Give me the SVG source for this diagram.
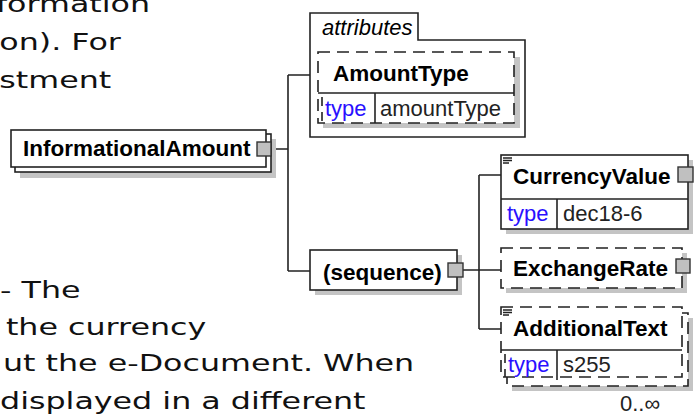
<svg xmlns="http://www.w3.org/2000/svg" width="695" height="416" viewBox="0 0 695 416">
<style>
.bg{font-family:"DejaVu Sans",Verdana,sans-serif;font-size:23.5px;fill:#111}
.t{font-family:"Liberation Sans",Arial,sans-serif;font-size:22.5px;font-weight:bold;fill:#000}
.r{font-family:"Liberation Sans",Arial,sans-serif;font-size:22px;fill:#222}
.ty{font-family:"Liberation Sans",Arial,sans-serif;font-size:22px;fill:#2a10ff}
.it{font-family:"Liberation Sans",Arial,sans-serif;font-size:22px;font-style:italic;fill:#000}
.box{fill:#fff;stroke:#222;stroke-width:1.6}
.dbox{fill:#fff;stroke:#222;stroke-width:1.6;stroke-dasharray:12 7}
.sh{fill:#c4c4c4}
.ln{fill:none;stroke:#222;stroke-width:1.6}
.dl{fill:none;stroke:#222;stroke-width:1.6;stroke-dasharray:9 6}
.sq{fill:#c0c0c0;stroke:#333;stroke-width:1.4}
</style>
<rect width="695" height="416" fill="#fff"/>
<g id="background-text" transform="scale(1.35,1)">
<text class="bg" x="-3" y="12">formation</text>
<text class="bg" x="-0.5" y="50">on). For</text>
<text class="bg" x="-0.5" y="88">stment</text>
<text class="bg" x="0" y="298">- The</text>
<text class="bg" x="4.4" y="335">the currency</text>
<text class="bg" x="2.2" y="371">ut the e-Document. When</text>
<text class="bg" x="0" y="409">displayed in a different</text>
</g>
<g id="connectors">
<path class="ln" d="M272,149 H288 M288,75 V271 M288,75 H310 M288,271 H310"/>
<path class="ln" d="M463,270 H479 M479,175 V329 M479,175 H501 M479,270 H501 M479,329 H501"/>
</g>
<g id="InformationalAmount">
<rect class="sh" x="20" y="139" width="256" height="39"/>
<rect class="box" x="15" y="134" width="256" height="38"/>
<rect class="box" x="11" y="130" width="255" height="37"/>
<text class="t" x="23" y="156">InformationalAmount</text>
<rect class="sq" x="257" y="142" width="14" height="14"/>
</g>
<g id="attributes">
<path class="box" d="M310,137 V13 H418 V40 H525 V137 Z"/>
<text class="it" x="322" y="35">attributes</text>
</g>
<g id="AmountType">
<rect class="sh" x="323" y="57" width="197" height="71"/>
<rect class="dbox" x="318" y="52" width="196" height="71"/>
<line class="ln" x1="318" y1="93" x2="514" y2="93"/>
<line class="dl" x1="322" y1="97" x2="322" y2="123"/>
<line class="ln" x1="375" y1="93" x2="375" y2="123"/>
<text class="t" x="333" y="81">AmountType</text>
<text class="ty" x="325" y="116">type</text>
<text class="r" x="380" y="116">amountType</text>
</g>
<g id="sequence">
<rect class="sh" x="315" y="255" width="147" height="40"/>
<rect class="box" x="310" y="250" width="147" height="40"/>
<text class="t" x="323" y="280">(sequence)</text>
<rect class="sq" x="448" y="263" width="15" height="14"/>
</g>
<g id="CurrencyValue">
<rect class="sh" x="506" y="160" width="187" height="74"/>
<rect class="box" x="501" y="155" width="187" height="74"/>
<line class="ln" x1="501" y1="199" x2="688" y2="199"/>
<line class="ln" x1="557" y1="199" x2="557" y2="229"/>
<path class="ln" d="M503,158 H512 M503,160.5 H512 M503,163 H509" stroke-width="1"/>
<text class="t" x="513" y="184">CurrencyValue</text>
<text class="ty" x="507" y="221">type</text>
<text class="r" x="563" y="221">dec18-6</text>
<rect class="sq" x="678" y="167" width="15" height="15"/>
</g>
<g id="ExchangeRate">
<rect class="sh" x="506" y="253" width="181" height="40"/>
<rect class="dbox" x="501" y="248" width="181" height="40"/>
<text class="t" x="513" y="276">ExchangeRate</text>
<rect class="sq" x="676" y="259" width="14" height="14"/>
</g>
<g id="AdditionalText">
<rect class="sh" x="512" y="318" width="181" height="73"/>
<rect class="dbox" x="507" y="313" width="181" height="73"/>
<rect class="dbox" x="501" y="307" width="181" height="70"/>
<line class="ln" x1="501" y1="350" x2="682" y2="350"/>
<line class="dl" x1="505" y1="354" x2="505" y2="377"/>
<line class="ln" x1="557" y1="350" x2="557" y2="380"/>
<path class="ln" d="M503,310 H512 M503,312.5 H512 M503,315 H509" stroke-width="1"/>
<text class="t" x="513" y="336">AdditionalText</text>
<text class="ty" x="508" y="372">type</text>
<text class="r" x="563" y="372">s255</text>
<text class="r" x="620" y="411">0..∞</text>
</g>
</svg>
